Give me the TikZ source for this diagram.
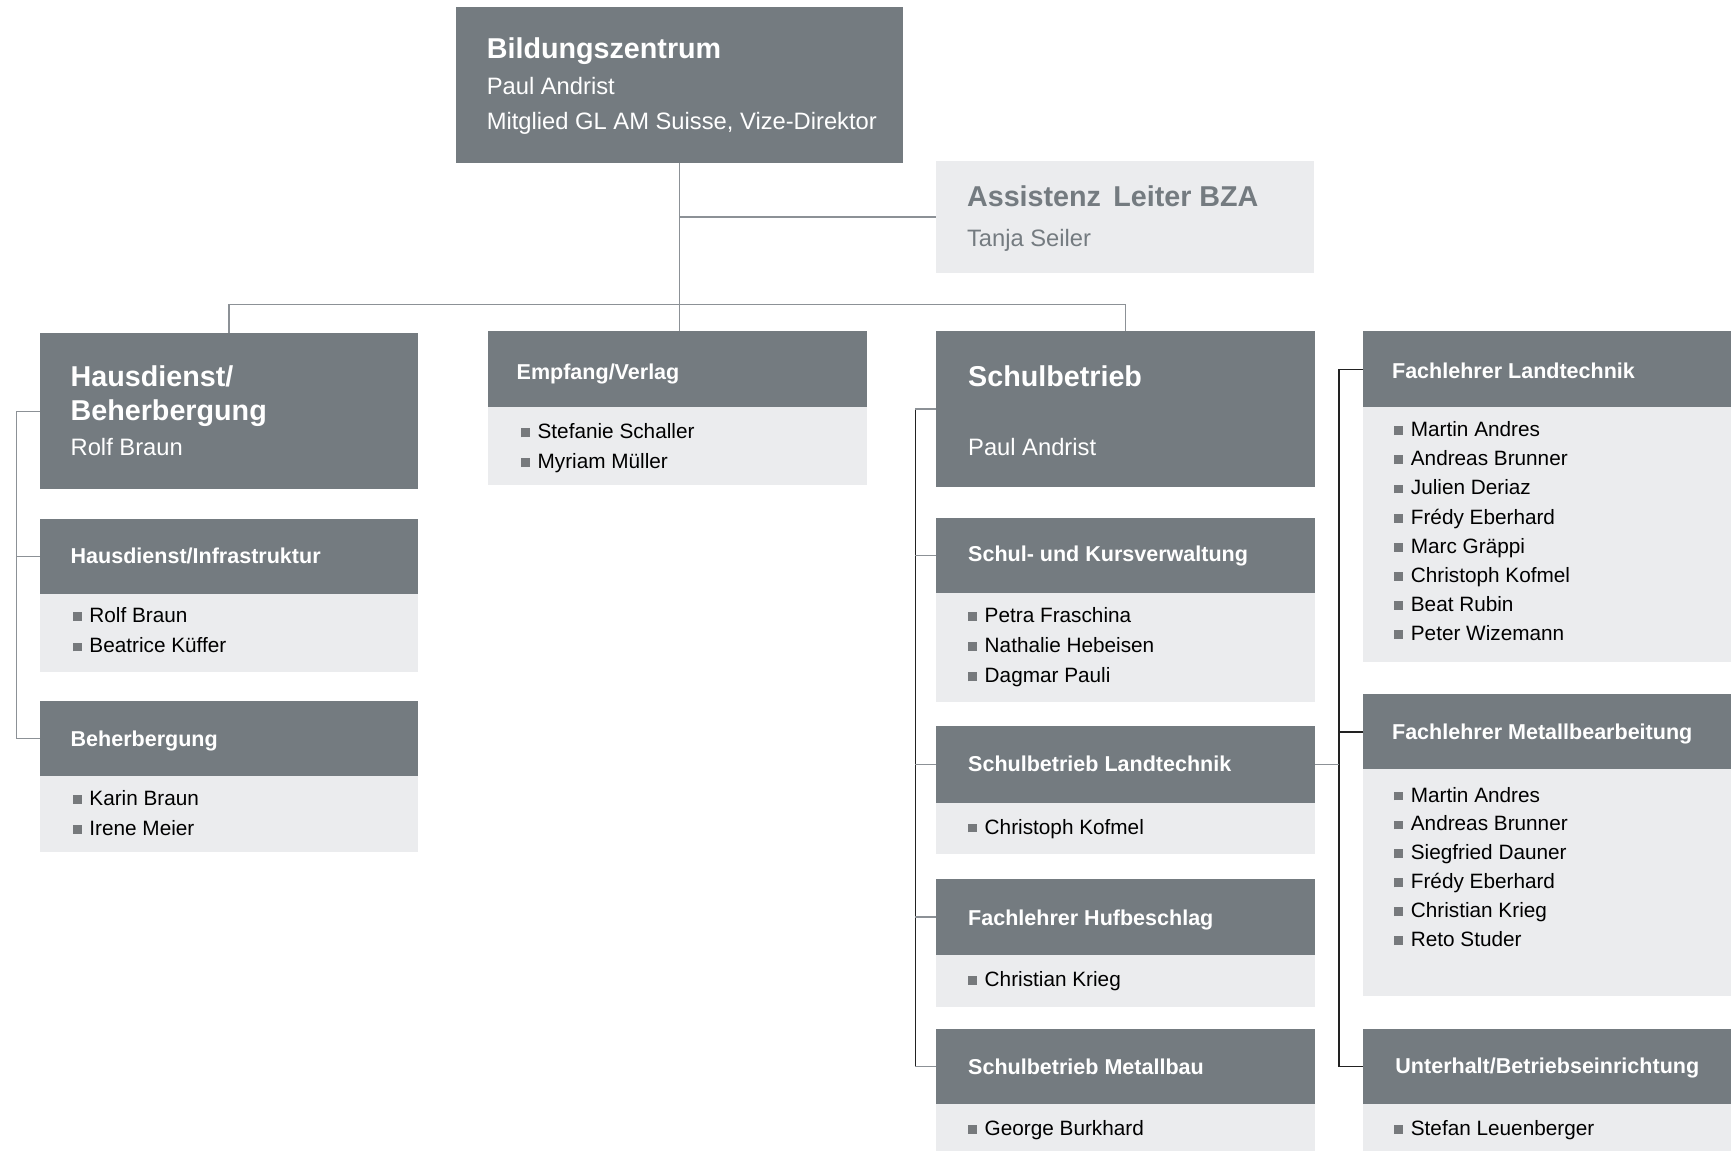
\documentclass[tikz,border=0pt]{standalone}
\usepackage{fontspec}
\setmainfont{Liberation Sans}
\usetikzlibrary{fit}
\definecolor{boxdark}{RGB}{116,123,128}
\definecolor{boxlight}{RGB}{235,236,238}
\definecolor{linegray}{RGB}{140,145,150}
\definecolor{linedark}{RGB}{34,34,34}
\definecolor{bulc}{RGB}{118,121,124}
\newcommand{\FTitle}{\fontsize{13pt}{15pt}\selectfont\bfseries}
\newcommand{\FSub}{\fontsize{10.75pt}{13pt}\selectfont}
\newcommand{\FHead}{\fontsize{9.75pt}{12pt}\selectfont\bfseries}
\newcommand{\FName}{\fontsize{9.4pt}{11pt}\selectfont}
\newcommand{\bul}{\textcolor{bulc}{\rule[0.7pt]{4pt}{4pt}}\hspace{3.5pt}}
\tikzset{
  darkbox/.style={fill=boxdark, inner sep=0pt, outer sep=0pt},
  lightbox/.style={fill=boxlight, inner sep=0pt, outer sep=0pt},
  txt/.style={anchor=base west, inner sep=0pt, outer sep=0pt},
  ttl/.style={txt, text=white, font=\FTitle},
  sub/.style={txt, text=white, font=\FSub},
  hdr/.style={txt, text=white, font=\FHead},
  person/.style={txt, text=black, font=\FName},
  ln/.style={draw=linegray, line width=0.6pt},
  lnd/.style={draw=linedark, line width=0.6pt},
}
\newcommand{\people}[5]{%
  \foreach \pname [count=\idx from 0] in {#5}{%
    \node[person] (#1\idx) at (#2,{#3+\idx*#4}) {\bul\pname};}}
\begin{document}
\begin{tikzpicture}[x=0.5pt, y=-0.5pt]
\useasboundingbox (0,0) rectangle (1568,1042);
\clip (0,0) rectangle (1568,1042);
\fill[white] (0,0) rectangle (1568,1042);

% ---------- top ----------
\node[darkbox, fit={(413,6)(818,148)}] (bz) {};
\node[ttl] (bzt) at (441,53) {Bildungszentrum};
\node[sub] (bzn) at (441,85.5) {Paul Andrist};
\node[sub] (bzf) at (441,117) {Mitglied GL AM Suisse, Vize-Direktor};

\node[lightbox, fit={(848,146)(1190,247)}] (as) {};
\node[txt, font=\FTitle, text=boxdark] (ast) at (876,187) {Assistenz\hspace{0.15em} Leiter BZA};
\node[txt, font=\FSub, text=boxdark] (asn) at (876,223) {Tanja Seiler};

% ---------- column 1 ----------
\node[darkbox, fit={(36,302)(379,443)}] (hb) {};
\node[ttl] (hbt1) at (64,350) {Hausdienst/};
\node[ttl] (hbt2) at (64,381) {Beherbergung};
\node[sub] (hbn) at (64,412.5) {Rolf Braun};

\node[darkbox, fit={(36,470)(379,538)}] (hi) {};
\node[lightbox, fit={(36,538)(379,609)}] (hib) {};
\node[hdr] (hit) at (64,510) {Hausdienst/Infrastruktur};
\people{hip}{66}{563.5}{28}{Rolf Braun,Beatrice Küffer}

\node[darkbox, fit={(36,635)(379,703)}] (be) {};
\node[lightbox, fit={(36,703)(379,772)}] (beb) {};
\node[hdr] (bet) at (64,676) {Beherbergung};
\people{bep}{66}{729.5}{27}{Karin Braun,Irene Meier}

% ---------- column 2 ----------
\node[darkbox, fit={(442,300)(785,369)}] (em) {};
\node[lightbox, fit={(442,369)(785,439)}] (emb) {};
\node[hdr] (emt) at (468,344) {Empfang/Verlag};
\people{emp}{472}{397.5}{27}{Stefanie Schaller,Myriam Müller}

% ---------- column 3 ----------
\node[darkbox, fit={(848,300)(1191,441)}] (sb) {};
\node[ttl] (sbt) at (877,350) {Schulbetrieb};
\node[sub] (sbn) at (877,412.5) {Paul Andrist};

\node[darkbox, fit={(848,469)(1191,537)}] (sk) {};
\node[lightbox, fit={(848,537)(1191,636)}] (skb) {};
\node[hdr] (skt) at (877,509) {Schul- und Kursverwaltung};
\people{skp}{877}{563.5}{27.5}{Petra Fraschina,Nathalie Hebeisen,Dagmar Pauli}

\node[darkbox, fit={(848,658)(1191,727)}] (sl) {};
\node[lightbox, fit={(848,727)(1191,774)}] (slb) {};
\node[hdr] (slt) at (877,699) {Schulbetrieb Landtechnik};
\people{slp}{877}{755.5}{27}{Christoph Kofmel}

\node[darkbox, fit={(848,796)(1191,865)}] (fh) {};
\node[lightbox, fit={(848,865)(1191,912)}] (fhb) {};
\node[hdr] (fht) at (877,838) {Fachlehrer Hufbeschlag};
\people{fhp}{877}{893.5}{27}{Christian Krieg}

\node[darkbox, fit={(848,932)(1191,1000)}] (sm) {};
\node[lightbox, fit={(848,1000)(1191,1060)}] (smb) {};
\node[hdr] (smt) at (877,973) {Schulbetrieb Metallbau};
\people{smp}{877}{1028.5}{27}{George Burkhard}

% ---------- column 4 ----------
\node[darkbox, fit={(1235,300)(1600,369)}] (fl) {};
\node[lightbox, fit={(1235,369)(1600,600)}] (flb) {};
\node[hdr] (flt) at (1261,343) {Fachlehrer Landtechnik};
\people{flp}{1263}{395.5}{26.4}{Martin Andres,Andreas Brunner,Julien Deriaz,Frédy Eberhard,Marc Gräppi,Christoph Kofmel,Beat Rubin,Peter Wizemann}

\node[darkbox, fit={(1235,629)(1600,697)}] (fm) {};
\node[lightbox, fit={(1235,697)(1600,902)}] (fmb) {};
\node[hdr] (fmt) at (1261,670) {Fachlehrer Metallbearbeitung};
\people{fmp}{1263}{726.5}{26.2}{Martin Andres,Andreas Brunner,Siegfried Dauner,Frédy Eberhard,Christian Krieg,Reto Studer}

\node[darkbox, fit={(1235,932)(1600,1000)}] (ub) {};
\node[lightbox, fit={(1235,1000)(1600,1060)}] (ubb) {};
\node[hdr] (ubt) at (1264,972) {Unterhalt/Betriebseinrichtung};
\people{ubp}{1263}{1028.5}{27}{Stefan Leuenberger}

% ---------- connectors ----------
\coordinate (bus) at (615,276);
\coordinate (k1) at (15,0);
\coordinate (k3) at (829,0);
\coordinate (k4) at (1213,0);

\draw[ln] (bz.south) -- (bz.south |- em.north);
\draw[ln] (bz.south |- as.west) -- (as.west);
\draw[ln] (hb.north) |- (bus) -| (sb.north);

\draw[ln] (hb.west) -| (k1 |- be.west) -- (be.west);
\draw[ln] (hi.west) -- (hi.west -| k1);

\draw[lnd] (sb.west -| k3) -- (sm.west -| k3);
\draw[ln] (sb.west) -- (sb.west -| k3);
\draw[ln] (sk.west) -- (sk.west -| k3);
\draw[ln] (sl.west) -- (sl.west -| k3);
\draw[ln] (fh.west) -- (fh.west -| k3);
\draw[ln] (sm.west) -- (sm.west -| k3);

\draw[lnd] (fl.west) -| (k4 |- ub.west) -- (ub.west);
\draw[lnd] (fm.west) -- (fm.west -| k4);
\draw[ln] (sl.east) -- (sl.east -| k4);
\end{tikzpicture}
\end{document}
